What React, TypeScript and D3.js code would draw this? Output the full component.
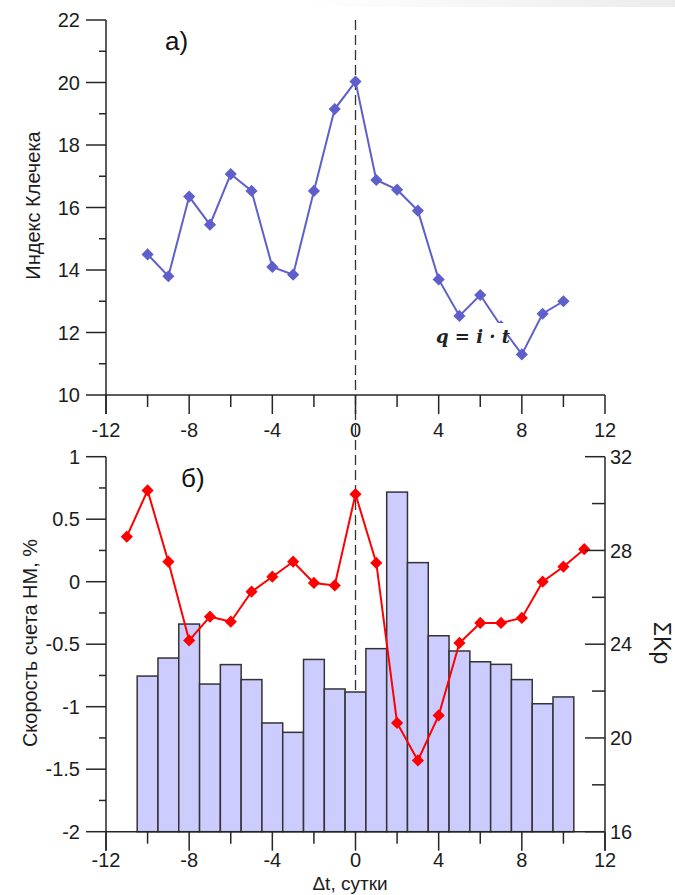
import React from "react";
import * as d3 from "d3";

// Panel a: Kleczek index by day relative to the event
const kIndexDays = [-10, -9, -8, -7, -6, -5, -4, -3, -2, -1, 0, 1, 2, 3, 4, 5, 6, 7, 8, 9, 10];
const kIndex = [14.5, 13.8, 16.35, 15.45, 17.07, 16.53, 14.1, 13.85, 16.53, 19.15, 20.03, 16.88, 16.57, 15.9, 13.7, 12.53, 13.2, 12.2, 11.3, 12.6, 13.0];

// Panel б: neutron monitor count rate (%) and ΣKp
const nmDays = [-11, -10, -9, -8, -7, -6, -5, -4, -3, -2, -1, 0, 1, 2, 3, 4, 5, 6, 7, 8, 9, 10, 11];
const nmRate = [0.36, 0.73, 0.16, -0.47, -0.28, -0.32, -0.08, 0.04, 0.16, -0.01, -0.03, 0.7, 0.15, -1.13, -1.43, -1.07, -0.49, -0.33, -0.33, -0.29, 0.0, 0.12, 0.26];
const kpDays = [-10, -9, -8, -7, -6, -5, -4, -3, -2, -1, 0, 1, 2, 3, 4, 5, 6, 7, 8, 9, 10];
const kpSum = [22.64, 23.41, 24.86, 22.3, 23.13, 22.49, 20.64, 20.24, 23.35, 22.09, 21.96, 23.81, 30.49, 27.48, 24.36, 23.71, 23.25, 23.14, 22.49, 21.46, 21.75];

// Tick values
const xMajor = [-12, -8, -4, 0, 4, 8, 12];
const xMinor = [-10, -6, -2, 2, 6, 10];
const kMajor = [10, 12, 14, 16, 18, 20, 22];
const kMinor = [11, 13, 15, 17, 19, 21];
const nmMajor = [-2, -1.5, -1, -0.5, 0, 0.5, 1];
const nmMinor = [-1.75, -1.25, -0.75, -0.25, 0.25, 0.75];
const kpMajor = [16, 20, 24, 28, 32];
const kpMinor = [18, 22, 26, 30];

const FONT = "'Liberation Sans', Arial, sans-serif";
const AX = "#262626";
const TXT = "#1c1c1c";

export default function App() {
  const x = d3.scaleLinear().domain([-12, 12]).range([106, 605]);
  const yK = d3.scaleLinear().domain([10, 22]).range([395, 20]);
  const yNM = d3.scaleLinear().domain([-2, 1]).range([831.7, 456.7]);
  const yKp = d3.scaleLinear().domain([16, 32]).range([831.7, 456.7]);

  const kLine = d3.line<number>().x((_, i) => x(kIndexDays[i])).y((d) => yK(d));
  const nmLine = d3.line<number>().x((_, i) => x(nmDays[i])).y((d) => yNM(d));
  const diamond = d3.symbol(d3.symbolSquare, 74)()!;

  const topBase = yK(10);
  const botBase = yNM(-2);
  const left = x(-12);
  const right = x(12);

  const major = 19;
  const minor = 12;

  return (
    <svg
      width={675}
      height={895}
      style={{ position: "absolute", left: 0, top: 0, background: "#fff" }}
      fontFamily={FONT}
    >
      <defs>
        <linearGradient id="band" x1="0" x2="1" y1="0" y2="0">
          <stop offset="0" stopColor="#ffffff" />
          <stop offset="1" stopColor="#ececec" />
        </linearGradient>
      </defs>
      <rect x={300} y={0} width={375} height={7} fill="url(#band)" />

      {/* event day marker */}
      <line x1={x(0)} x2={x(0)} y1={yK(22)} y2={botBase} stroke="#333" strokeWidth={1.3} strokeDasharray="10,5" />

      {/* ---------- panel a ---------- */}
      <path d={kLine(kIndex)!} fill="none" stroke="#5f5fcc" strokeWidth={2} />
      {kIndex.map((v, i) => (
        <path key={i} d={diamond} transform={`translate(${x(kIndexDays[i])},${yK(v)}) rotate(45)`} fill="#5f5fcc" />
      ))}

      {/* formula label on a white patch */}
      <rect x={426} y={323} width={81} height={32} fill="#fff" />
      <text x={436} y={343} fontFamily="'DejaVu Serif', 'Liberation Serif', serif" fontStyle="italic" fontWeight="bold" fontSize={18} fill="#222">
        q = i · t
      </text>

      {/* axes a */}
      <line x1={left} x2={left} y1={yK(22)} y2={topBase + major} stroke={AX} strokeWidth={1.5} />
      <line x1={left} x2={right} y1={topBase} y2={topBase} stroke={AX} strokeWidth={1.5} />
      {kMajor.map((t) => (
        <g key={t}>
          <line x1={left - 20} x2={left} y1={yK(t)} y2={yK(t)} stroke={AX} strokeWidth={1.5} />
          <text x={80} y={yK(t)} dy="0.36em" textAnchor="end" fontSize={20} fill={TXT}>{t}</text>
        </g>
      ))}
      {kMinor.map((t) => (
        <line key={t} x1={left - 7} x2={left} y1={yK(t)} y2={yK(t)} stroke={AX} strokeWidth={1.5} />
      ))}
      {xMajor.map((t) => (
        <g key={t}>
          <line x1={x(t)} x2={x(t)} y1={topBase} y2={topBase + major} stroke={AX} strokeWidth={1.5} />
          <text x={x(t)} y={topBase + 42} textAnchor="middle" fontSize={20} fill={TXT}>{t}</text>
        </g>
      ))}
      {xMinor.map((t) => (
        <line key={t} x1={x(t)} x2={x(t)} y1={topBase} y2={topBase + minor} stroke={AX} strokeWidth={1.5} />
      ))}
      <text x={165} y={50} fontSize={26} fill="#111">а)</text>
      <text transform={`translate(39.5,205.5) rotate(-90)`} textAnchor="middle" fontSize={20} fill={TXT}>
        Индекс Клечека
      </text>

      {/* ---------- panel б ---------- */}
      {kpSum.map((v, i) => (
        <rect
          key={i}
          x={x(kpDays[i] - 0.5)}
          y={yKp(v)}
          width={x(kpDays[i] + 0.5) - x(kpDays[i] - 0.5)}
          height={yKp(16) - yKp(v)}
          fill="#ccccff"
          stroke="#333"
          strokeWidth={1.5}
        />
      ))}
      <path d={nmLine(nmRate)!} fill="none" stroke="#ff0000" strokeWidth={2} />
      {nmRate.map((v, i) => (
        <path key={i} d={diamond} transform={`translate(${x(nmDays[i])},${yNM(v)}) rotate(45)`} fill="#ff0000" />
      ))}

      {/* axes б */}
      <line x1={left} x2={left} y1={yNM(1)} y2={botBase + major} stroke={AX} strokeWidth={1.5} />
      <line x1={right} x2={right} y1={yKp(32)} y2={botBase + major} stroke={AX} strokeWidth={1.5} />
      <line x1={left} x2={right} y1={botBase} y2={botBase} stroke={AX} strokeWidth={1.5} />
      {nmMajor.map((t) => (
        <g key={t}>
          <line x1={left - 20} x2={left} y1={yNM(t)} y2={yNM(t)} stroke={AX} strokeWidth={1.5} />
          <text x={80} y={yNM(t)} dy="0.36em" textAnchor="end" fontSize={20} fill={TXT}>{t}</text>
        </g>
      ))}
      {nmMinor.map((t) => (
        <line key={t} x1={left - 7} x2={left} y1={yNM(t)} y2={yNM(t)} stroke={AX} strokeWidth={1.5} />
      ))}
      {kpMajor.map((t) => (
        <g key={t}>
          <line x1={right - 20} x2={right} y1={yKp(t)} y2={yKp(t)} stroke={AX} strokeWidth={1.5} />
          <text x={610} y={yKp(t)} dy="0.36em" textAnchor="start" fontSize={20} fill={TXT}>{t}</text>
        </g>
      ))}
      {kpMinor.map((t) => (
        <line key={t} x1={right - 13} x2={right} y1={yKp(t)} y2={yKp(t)} stroke={AX} strokeWidth={1.5} />
      ))}
      {xMajor.map((t) => (
        <g key={t}>
          <line x1={x(t)} x2={x(t)} y1={botBase} y2={botBase + major} stroke={AX} strokeWidth={1.5} />
          <text x={x(t)} y={botBase + 35} textAnchor="middle" fontSize={20} fill={TXT}>{t}</text>
        </g>
      ))}
      {xMinor.map((t) => (
        <line key={t} x1={x(t)} x2={x(t)} y1={botBase} y2={botBase + minor} stroke={AX} strokeWidth={1.5} />
      ))}
      <text x={181} y={487} fontSize={26} fill="#111">б)</text>
      <text transform={`translate(36.5,643) rotate(-90)`} textAnchor="middle" fontSize={20} fill={TXT}>
        Скорость счета НМ, %
      </text>
      <text transform={`translate(653.5,643) rotate(90)`} textAnchor="middle" fontSize={23} fill={TXT}>
        ΣKp
      </text>
      <text x={350} y={890} textAnchor="middle" fontSize={19} fill={TXT}>
        Δt, сутки
      </text>
    </svg>
  );
}
